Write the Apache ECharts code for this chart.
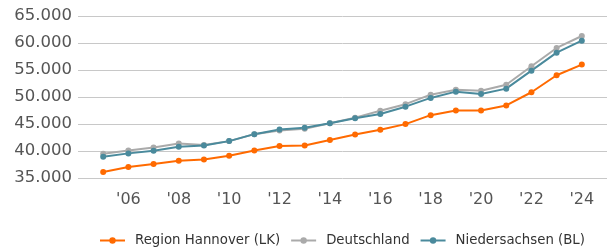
<!DOCTYPE html>
<html>
<head>
<meta charset="utf-8">
<script src="https://cdn.jsdelivr.net/npm/echarts@6/dist/echarts.min.js"></script>
<style>
  html, body { margin: 0; padding: 0; background: #fff; }
  #chart { width: 611px; height: 251px; }
</style>
</head>
<body>
<div id="chart"></div>
<script>
const years = [2005, 2006, 2007, 2008, 2009, 2010, 2011, 2012, 2013, 2014,
  2015, 2016, 2017, 2018, 2019, 2020, 2021, 2022, 2023, 2024];
const hannover = [36100, 37030, 37590, 38200, 38440, 39120, 40100, 40910, 41030, 42020,
  43060, 43930, 44980, 46640, 47490, 47490, 48440, 50880, 54020, 56000];
const deutschland = [39500, 40100, 40650, 41390, 41100, 41830, 43120, 43800, 44100, 45140,
  46180, 47440, 48670, 50430, 51360, 51170, 52280, 55700, 59080, 61300];
const niedersachsen = [38940, 39560, 40050, 40790, 41030, 41830, 43120, 43980, 44290, 45140,
  46060, 46860, 48210, 49830, 50990, 50560, 51550, 54880, 58210, 60430];

const font = 'DejaVu Sans';

function pairs(vals) {
  return years.map((y, i) => [y, vals[i]]);
}

function mkSeries(name, vals, color) {
  return {
    name: name,
    type: 'line',
    data: pairs(vals),
    symbol: 'circle',
    symbolSize: 6,
    lineStyle: { width: 2, color: color },
    itemStyle: { color: color },
    emphasis: { disabled: true }
  };
}

const chart = echarts.init(document.getElementById('chart'));
chart.setOption({
  animation: false,
  grid: { left: 78, right: 4, top: 16, bottom: 73 },
  legend: {
    bottom: -1,
    left: 94,
    itemWidth: 25,
    itemHeight: 8,
    itemGap: 10,
    textStyle: { fontFamily: font, fontSize: 13.3, color: '#333', padding: [0, 0, 0, 5] },
    data: ['Region Hannover (LK)', 'Deutschland', 'Niedersachsen (BL)']
  },
  xAxis: {
    type: 'value',
    min: 2004,
    max: 2025,
    interval: 2,
    axisLine: { show: false },
    axisTick: { show: false },
    splitLine: { show: false },
    axisLabel: {
      margin: 14,
      fontFamily: font,
      fontSize: 16,
      color: '#555',
      formatter: function (v) {
        return (v > 2004 && v < 2025) ? "'" + String(v).slice(2) : '';
      }
    }
  },
  yAxis: {
    type: 'value',
    min: 35000,
    max: 65000,
    interval: 5000,
    axisLine: { show: false },
    axisTick: { show: false },
    splitLine: { lineStyle: { color: '#c8c8c8', width: 1 } },
    axisLabel: {
      margin: 6,
      fontFamily: font,
      fontSize: 16.5,
      color: '#555',
      formatter: function (v) {
        return String(v).replace(/\B(?=(\d{3})+(?!\d))/g, '.');
      }
    }
  },
  series: [
    mkSeries('Region Hannover (LK)', hannover, '#ff6a00'),
    mkSeries('Deutschland', deutschland, '#aaaaaa'),
    mkSeries('Niedersachsen (BL)', niedersachsen, '#4a8a9c')
  ]
});
</script>
</body>
</html>
